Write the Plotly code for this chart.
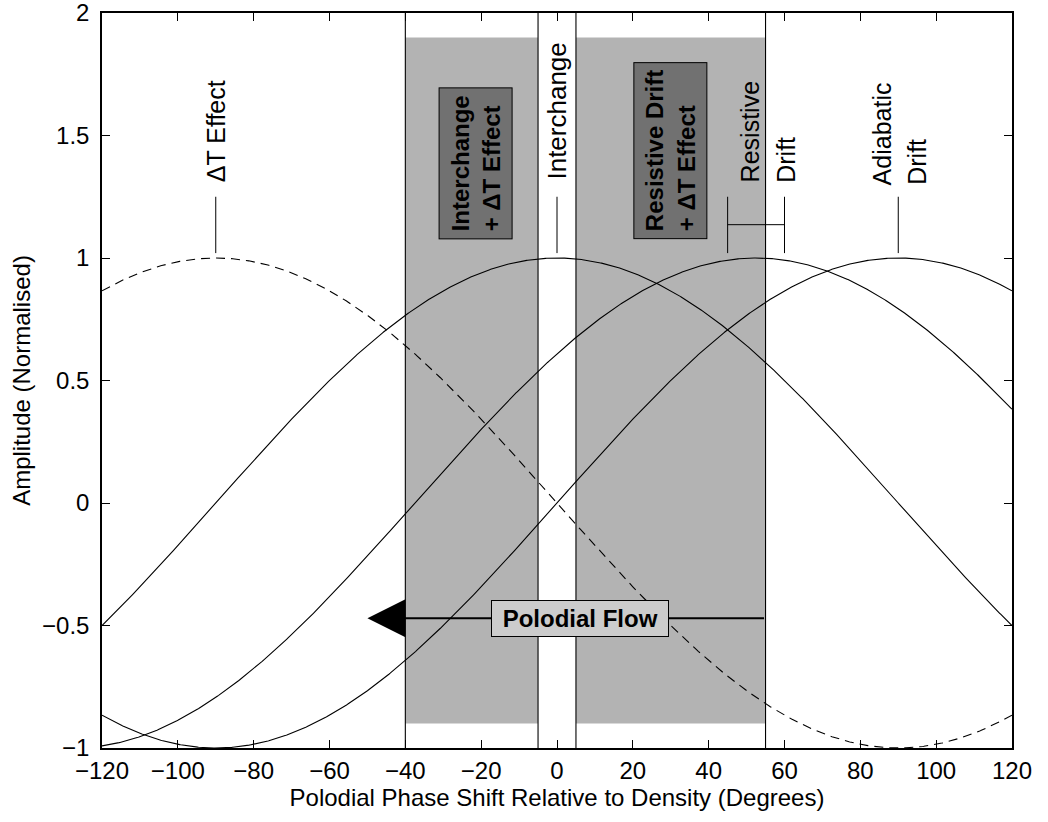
import numpy as np
import plotly.graph_objects as go

# Phase (degrees) at which each normalised response peaks
curve_names = ["ΔT Effect", "Interchange", "Resistive Drift", "Adiabatic Drift"]
peak_phase = [-90, 0, 52.5, 90]
curve_dash = ["9px,6px", "solid", "solid", "solid"]

# Shaded phase windows where two effects combine
window_x0 = [-40, 5]
window_x1 = [-5, 55]
window_y = [-0.9, 1.9]
boundary_x = [-40, -5, 5, 55]

# Poloidal flow arrow (tail -> head) and its level
flow_from = 55
flow_to = -50
flow_level = -0.47

x_ticks = list(range(-120, 121, 20))
y_ticks = [-1, -0.5, 0, 0.5, 1, 1.5, 2]

FONT = "Liberation Sans, Arial, Helvetica, sans-serif"
FS = 24

phase = np.arange(-120, 120.25, 0.25)

fig = go.Figure()

for name, peak, dash in zip(curve_names, peak_phase, curve_dash):
    fig.add_trace(go.Scatter(
        x=phase, y=np.cos(np.radians(phase - peak)), mode="lines", name=name,
        line=dict(color="black", width=1.1, dash=dash), showlegend=False,
        hoverinfo="skip"))

shapes = []
for x0, x1 in zip(window_x0, window_x1):
    shapes.append(dict(type="rect", xref="x", yref="y", x0=x0, x1=x1,
                       y0=window_y[0], y1=window_y[1], fillcolor="#b3b3b3",
                       line=dict(width=0), layer="below"))
for bx in boundary_x:
    shapes.append(dict(type="line", xref="x", yref="y", x0=bx, x1=bx,
                       y0=-1, y1=2, line=dict(color="black", width=1.1),
                       layer="below"))

# leader lines from each peak to its label
lead_lo, lead_hi = 1.02, 1.25
for lx in [-90, 0, 90, 45, 60]:
    shapes.append(dict(type="line", xref="x", yref="y", x0=lx, x1=lx,
                       y0=lead_lo, y1=lead_hi,
                       line=dict(color="black", width=1)))
shapes.append(dict(type="line", xref="x", yref="y", x0=45, x1=60,
                   y0=1.136, y1=1.136, line=dict(color="black", width=1)))

annotations = []


def vlabel(x, y, text, bold=False, box=False, size=25):
    t = f"<b>{text}</b>" if bold else text
    a = dict(x=x, y=y, xref="x", yref="y", text=t, textangle=-90,
             showarrow=False, xanchor="center", yanchor="bottom",
             align="left", font=dict(family=FONT, size=size, color="black"))
    if box:
        a.update(bgcolor="#717171", bordercolor="black", borderwidth=1,
                 borderpad=7)
    annotations.append(a)


vlabel(-90, 1.30, "ΔT Effect")
vlabel(0, 1.31, "Interchange", size=26)
vlabel(51, 1.30, "Resistive")
vlabel(60.2, 1.30, "Drift")
vlabel(85.7, 1.29, "Adiabatic")
vlabel(94.9, 1.29, "Drift")
vlabel(-21.5, 1.078, "Interchange<br>+ ΔT Effect", bold=True, box=True, size=24)
vlabel(30, 1.078, "Resistive Drift<br>+ ΔT Effect", bold=True, box=True, size=24)

# poloidal flow arrow
annotations.append(dict(
    x=flow_to, y=flow_level, ax=flow_from, ay=flow_level,
    xref="x", yref="y", axref="x", ayref="y", text="", showarrow=True,
    arrowhead=2, arrowsize=3.8, arrowwidth=2, arrowcolor="black",
    standoff=0, startstandoff=0))
annotations.append(dict(
    x=6, y=flow_level, xref="x", yref="y",
    text="&nbsp;<b>Polodial Flow</b>&nbsp;",
    showarrow=False, font=dict(family=FONT, size=FS, color="black"),
    bgcolor="#cccccc", bordercolor="black", borderwidth=1, borderpad=4))

axis_common = dict(
    showgrid=False, zeroline=False, showline=True, linecolor="black",
    linewidth=1.5, mirror="ticks", ticks="inside", ticklen=8,
    tickcolor="black", tickwidth=1.2, ticklabeloverflow="allow",
    automargin=False,
    tickfont=dict(family=FONT, size=FS, color="black"))

fig.update_layout(
    width=1048, height=822,
    margin=dict(l=102, r=36, t=13, b=74, autoexpand=False),
    paper_bgcolor="white", plot_bgcolor="white",
    shapes=shapes, annotations=annotations,
    xaxis=dict(range=[-120, 120], tickvals=x_ticks,
               title=dict(text="Polodial Phase Shift Relative to Density (Degrees)",
                          font=dict(family=FONT, size=FS, color="black"),
                          standoff=5),
               **axis_common),
    yaxis=dict(range=[-1, 2], tickvals=y_ticks, ticklabelstandoff=6,
               title=dict(text="Amplitude (Normalised)",
                          font=dict(family=FONT, size=FS, color="black"),
                          standoff=5),
               **axis_common),
)

fig.write_html("out.html")
